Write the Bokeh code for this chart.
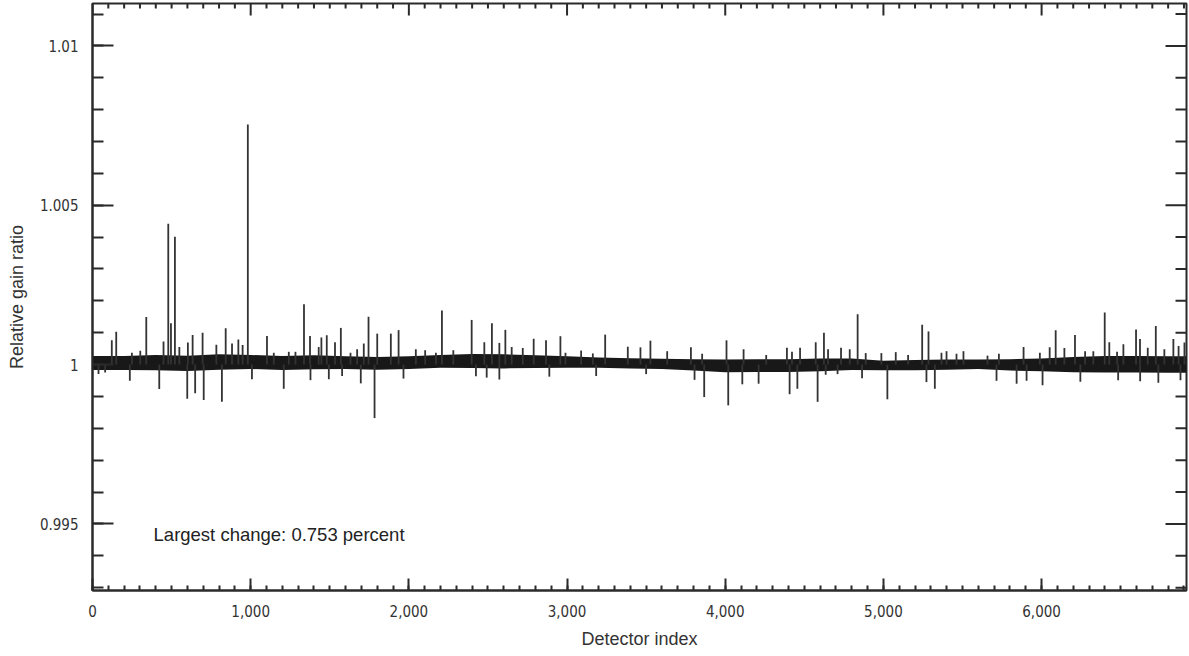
import math
from bokeh.plotting import figure
from bokeh.models import FixedTicker, NumeralTickFormatter, Label, Range1d
from bokeh.embed import file_html
from bokeh.resources import INLINE

# ---------------- data ----------------
# dense noise band of the relative gain ratio, sampled every 200 detectors
band_index = [0, 200, 400, 600, 800, 1000, 1200, 1400, 1600, 1800, 2000, 2200,
              2400, 2600, 2800, 3000, 3200, 3400, 3600, 3800, 4000, 4200, 4400,
              4600, 4800, 5000, 5200, 5400, 5600, 5800, 6000, 6200, 6400, 6600,
              6800, 6916]
band_high = [1.00027, 1.00027, 1.00030, 1.00028, 1.00032, 1.00030, 1.00027, 1.00029,
             1.00026, 1.00024, 1.00026, 1.00030, 1.00033, 1.00032, 1.00029, 1.00026,
             1.00022, 1.00020, 1.00018, 1.00017, 1.00016, 1.00017, 1.00017, 1.00019,
             1.00019, 1.00012, 1.00014, 1.00016, 1.00016, 1.00017, 1.00019, 1.00024,
             1.00027, 1.00027, 1.00026, 1.00026]
band_low = [0.99983, 0.99983, 0.99982, 0.99980, 0.99984, 0.99986, 0.99983, 0.99985,
            0.99986, 0.99984, 0.99986, 0.99990, 0.99989, 0.99988, 0.99989, 0.99990,
            0.99990, 0.99988, 0.99986, 0.99981, 0.99976, 0.99977, 0.99977, 0.99979,
            0.99983, 0.99982, 0.99982, 0.99984, 0.99986, 0.99981, 0.99979, 0.99976,
            0.99975, 0.99975, 0.99974, 0.99974]

# upward spikes (detector index, relative gain ratio)
up_index = [122, 150, 249, 302, 340, 449, 479, 496, 521, 549, 603, 633, 696, 783,
            842, 882, 922, 949, 982, 1103, 1146, 1241, 1283, 1337, 1375, 1430, 1447,
            1481, 1533, 1570, 1631, 1673, 1715, 1745, 1800, 1886, 1935, 2044, 2103,
            2171, 2209, 2281, 2397, 2477, 2525, 2572, 2610, 2650, 2720, 2789, 2867,
            2958, 2990, 3089, 3163, 3241, 3384, 3464, 3527, 3633, 3783, 3854, 4008,
            4116, 4259, 4390, 4422, 4473, 4572, 4624, 4650, 4732, 4787, 4837, 4888,
            4987, 5078, 5156, 5245, 5285, 5367, 5399, 5462, 5506, 5658, 5730, 5886,
            5989, 6051, 6089, 6144, 6211, 6275, 6327, 6399, 6428, 6477, 6517, 6597,
            6622, 6671, 6722, 6776, 6833, 6866, 6903]
up_value = [1.00076, 1.00103, 1.00037, 1.00043, 1.00149, 1.00072, 1.00442, 1.00130,
            1.00401, 1.00055, 1.00069, 1.00093, 1.00100, 1.00062, 1.00114, 1.00066,
            1.00079, 1.00061, 1.00753, 1.00090, 1.00037, 1.00040, 1.00040, 1.00189,
            1.00090, 1.00055, 1.00085, 1.00092, 1.00070, 1.00115, 1.00037, 1.00048,
            1.00066, 1.00150, 1.00097, 1.00097, 1.00108, 1.00048, 1.00045, 1.00037,
            1.00170, 1.00045, 1.00140, 1.00070, 1.00130, 1.00068, 1.00109, 1.00055,
            1.00052, 1.00081, 1.00076, 1.00089, 1.00037, 1.00044, 1.00035, 1.00094,
            1.00056, 1.00054, 1.00075, 1.00042, 1.00054, 1.00034, 1.00076, 1.00048,
            1.00030, 1.00053, 1.00040, 1.00053, 1.00070, 1.00100, 1.00048, 1.00053,
            1.00048, 1.00158, 1.00036, 1.00036, 1.00039, 1.00030, 1.00125, 1.00104,
            1.00037, 1.00042, 1.00034, 1.00042, 1.00028, 1.00034, 1.00055, 1.00037,
            1.00054, 1.00108, 1.00052, 1.00093, 1.00042, 1.00042, 1.00163, 1.00070,
            1.00040, 1.00064, 1.00110, 1.00080, 1.00053, 1.00121, 1.00048, 1.00080,
            1.00058, 1.00069]

# downward spikes
down_index = [38, 80, 236, 422, 599, 649, 703, 818, 1008, 1209, 1378, 1494, 1578,
              1696, 1783, 1966, 2424, 2492, 2572, 2888, 3184, 3500, 3806, 3867, 4019,
              4108, 4211, 4407, 4456, 4584, 4635, 4710, 4865, 5025, 5272, 5325, 5715,
              5842, 5905, 6006, 6245, 6484, 6623, 6738, 6878]
down_value = [0.99970, 0.99975, 0.99949, 0.99923, 0.99893, 0.99910, 0.99889, 0.99883,
              0.99954, 0.99924, 0.99951, 0.99954, 0.99964, 0.99941, 0.99832, 0.99956,
              0.99963, 0.99959, 0.99953, 0.99962, 0.99964, 0.99970, 0.99952, 0.99898,
              0.99872, 0.99938, 0.99940, 0.99907, 0.99924, 0.99883, 0.99968, 0.99970,
              0.99957, 0.99891, 0.99945, 0.99924, 0.99949, 0.99940, 0.99949, 0.99935,
              0.99946, 0.99951, 0.99948, 0.99943, 0.99951]

x_major_ticks = [0, 1000, 2000, 3000, 4000, 5000, 6000]
x_minor_ticks = [i * 100 for i in range(0, 70)]
y_major_ticks = [0.995, 1.0, 1.005, 1.01]
y_tick_labels = ["0.995", "1", "1.005", "1.01"]
y_minor_ticks = [0.993, 0.994, 0.995, 0.996, 0.997, 0.998, 0.999, 1.0, 1.001,
                 1.002, 1.003, 1.004, 1.005, 1.006, 1.007, 1.008, 1.009, 1.01, 1.011]

annotation = "Largest change: 0.753 percent"
x_title = "Detector index"
y_title = "Relative gain ratio"

# ---------------- figure ----------------
AXIS_COLOR = "#2a2a2a"
TICK_FONT = "'Liberation Sans Narrow', 'DejaVu Sans Condensed', sans-serif"
LABEL_FONT = "'Liberation Sans', Arial, sans-serif"

X0, X1 = 0, 6916
Y0, Y1 = 0.99291, 1.01133

p = figure(frame_width=1094, frame_height=587,
           x_range=Range1d(X0, X1), y_range=Range1d(Y0, Y1),
           output_backend="svg", toolbar_location=None,
           min_border_left=92, min_border_right=3, min_border_top=3,
           min_border_bottom=10)
p.grid.visible = False
p.outline_line_color = AXIS_COLOR
p.outline_line_width = 2
p.background_fill_color = "white"
p.border_fill_color = "white"

xt = FixedTicker(ticks=x_major_ticks, minor_ticks=x_minor_ticks)
yt = FixedTicker(ticks=y_major_ticks, minor_ticks=y_minor_ticks)


def style(ax, horizontal):
    ax.axis_line_color = AXIS_COLOR
    ax.axis_line_width = 2
    ax.major_tick_line_color = AXIS_COLOR
    ax.minor_tick_line_color = AXIS_COLOR
    ax.major_tick_line_width = 2
    ax.minor_tick_line_width = 2
    ax.major_tick_out = 0
    ax.minor_tick_out = 0
    if horizontal:
        ax.major_tick_in = 12
        ax.minor_tick_in = 5
    else:
        ax.major_tick_in = 21
        ax.minor_tick_in = 11


xa = p.xaxis[0]
xa.ticker = xt
xa.formatter = NumeralTickFormatter(format="0,0")
style(xa, True)
xa.major_label_text_font = TICK_FONT
xa.major_label_text_font_size = "15px"
xa.major_label_text_color = "#333333"
xa.major_label_standoff = 14
xa.axis_label = x_title
xa.axis_label_text_font = LABEL_FONT
xa.axis_label_text_font_size = "18px"
xa.axis_label_text_font_style = "normal"
xa.axis_label_text_color = "#333333"
xa.axis_label_standoff = 9

ya = p.yaxis[0]
ya.ticker = yt
ya.major_label_overrides = {t: s for t, s in zip(y_major_ticks, y_tick_labels)}
style(ya, False)
ya.major_label_text_font = TICK_FONT
ya.major_label_text_font_size = "15px"
ya.major_label_text_color = "#333333"
ya.major_label_standoff = 14
ya.axis_label = y_title
ya.axis_label_text_font = LABEL_FONT
ya.axis_label_text_font_size = "18px"
ya.axis_label_text_font_style = "normal"
ya.axis_label_text_color = "#333333"
ya.axis_label_standoff = 10

# mirrored inward ticks on the top and right frame edges
x_minor_only = [t for t in x_minor_ticks if t not in x_major_ticks]
y_minor_only = [t for t in y_minor_ticks if t not in y_major_ticks]
p.ray(x=x_major_ticks, y=[Y1] * len(x_major_ticks), length=12, length_units="screen",
      angle=-math.pi / 2, line_color=AXIS_COLOR, line_width=2)
p.ray(x=x_minor_only, y=[Y1] * len(x_minor_only), length=5, length_units="screen",
      angle=-math.pi / 2, line_color=AXIS_COLOR, line_width=2)
p.ray(x=[X1] * len(y_major_ticks), y=y_major_ticks, length=21, length_units="screen",
      angle=math.pi, line_color=AXIS_COLOR, line_width=2)
p.ray(x=[X1] * len(y_minor_only), y=y_minor_only, length=11, length_units="screen",
      angle=math.pi, line_color=AXIS_COLOR, line_width=2)

# noise band and spikes
p.varea(x=band_index, y1=band_low, y2=band_high, fill_color="#181818")
p.segment(x0=up_index, y0=[1.0] * len(up_index), x1=up_index, y1=up_value,
          line_color="#333333", line_width=1.8)
p.segment(x0=down_index, y0=[1.0] * len(down_index), x1=down_index, y1=down_value,
          line_color="#333333", line_width=1.8)

p.add_layout(Label(x=386, y=0.99466, text=annotation, text_font=LABEL_FONT,
                   text_font_size="18.5px", text_baseline="middle", text_color="#222222"))

open("out.html", "w").write(file_html(p, INLINE))
